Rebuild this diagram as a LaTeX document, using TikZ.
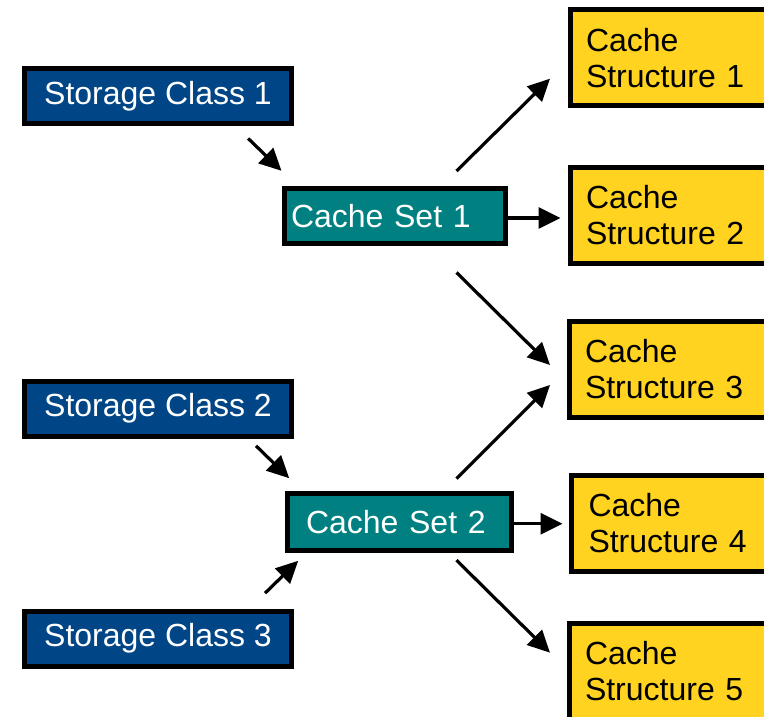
\documentclass[tikz,border=0pt]{standalone}
\usepackage{fontspec}
\setmainfont{Liberation Sans}
\usetikzlibrary{arrows.meta}
\definecolor{classblue}{HTML}{004586}
\definecolor{setteal}{HTML}{008080}
\definecolor{structyellow}{HTML}{FFD320}
\tikzset{
  box/.style={draw=black, line width=5pt, inner sep=0pt, font=\fontsize{32}{36}\selectfont},
  classbox/.style={box, fill=classblue, text=white, minimum width=267pt, minimum height=55pt},
  setbox/.style={box, fill=setteal, text=white, minimum height=55pt, align=left},
  structbox/.style={box, fill=structyellow, text=black, anchor=west, minimum height=96pt,
    inner xsep=16pt, text width=210pt, align=left},
  arr/.style={line width=3.2pt, -{Triangle[length=22pt,width=21pt]}}
}
\begin{document}
\begin{tikzpicture}[x=1pt,y=-1pt]
\useasboundingbox (0,0) rectangle (764,717);

\node[classbox] (sc1) at (158,96) {Storage Class 1};
\node[classbox] (sc2) at (158,408.5) {Storage Class 2};
\node[classbox] (sc3) at (158,638.5) {Storage Class 3};

\node[setbox, minimum width=221pt, text width=208pt] (cset1) at (395,216) {Cache Set 1};
\node[setbox, minimum width=224pt, text width=187pt, minimum height=57pt] (cset2) at (399.5,521.7) {Cache Set 2};

\node[structbox] (cs1) at (567.5,58) {Cache\\Structure 1};
\node[structbox] (cs2) at (567.5,215.5) {Cache\\Structure 2};
\node[structbox] (cs3) at (566.5,369) {Cache\\Structure 3};
\node[structbox, inner xsep=17.5pt] (cs4) at (568.5,523.3) {Cache\\Structure 4};
\node[structbox] (cs5) at (566.5,671) {Cache\\Structure 5};

\draw[arr] ([shift={(-45.8,12.5)}]sc1.south east) -- ([shift={(-0.5,-15.2)}]cset1.north west);
\draw[arr] ([shift={(-38,7.3)}]sc2.south east) -- ([shift={(4.2,-12.5)}]cset2.north west);
\draw[arr] ([shift={(-29,-15.3)}]sc3.north east) -- ([shift={(13.2,8.1)}]cset2.south west);

\draw[arr] ([shift={(-51.5,-15)}]cset1.north east) -- ([shift={(-17.5,20.7)}]cs1.west);
\draw[arr, shorten >=7pt] ([yshift=-2pt]cset1.east) -- ([yshift=-2pt]cset1.east -| cs2.west);
\draw[arr] ([shift={(-51.5,26.5)}]cset1.south east) -- ([shift={(-16.5,-4)}]cs3.west);

\draw[arr] ([shift={(-57.5,-12)}]cset2.north east) -- ([shift={(-16.5,16)}]cs3.west);
\draw[arr, shorten >=6pt] ([yshift=-2pt]cset2.east) -- ([yshift=-2pt]cset2.east -| cs4.west);
\draw[arr] ([shift={(-57.5,7.5)}]cset2.south east) -- ([shift={(-16.5,-18.3)}]cs5.west);
\end{tikzpicture}
\end{document}
